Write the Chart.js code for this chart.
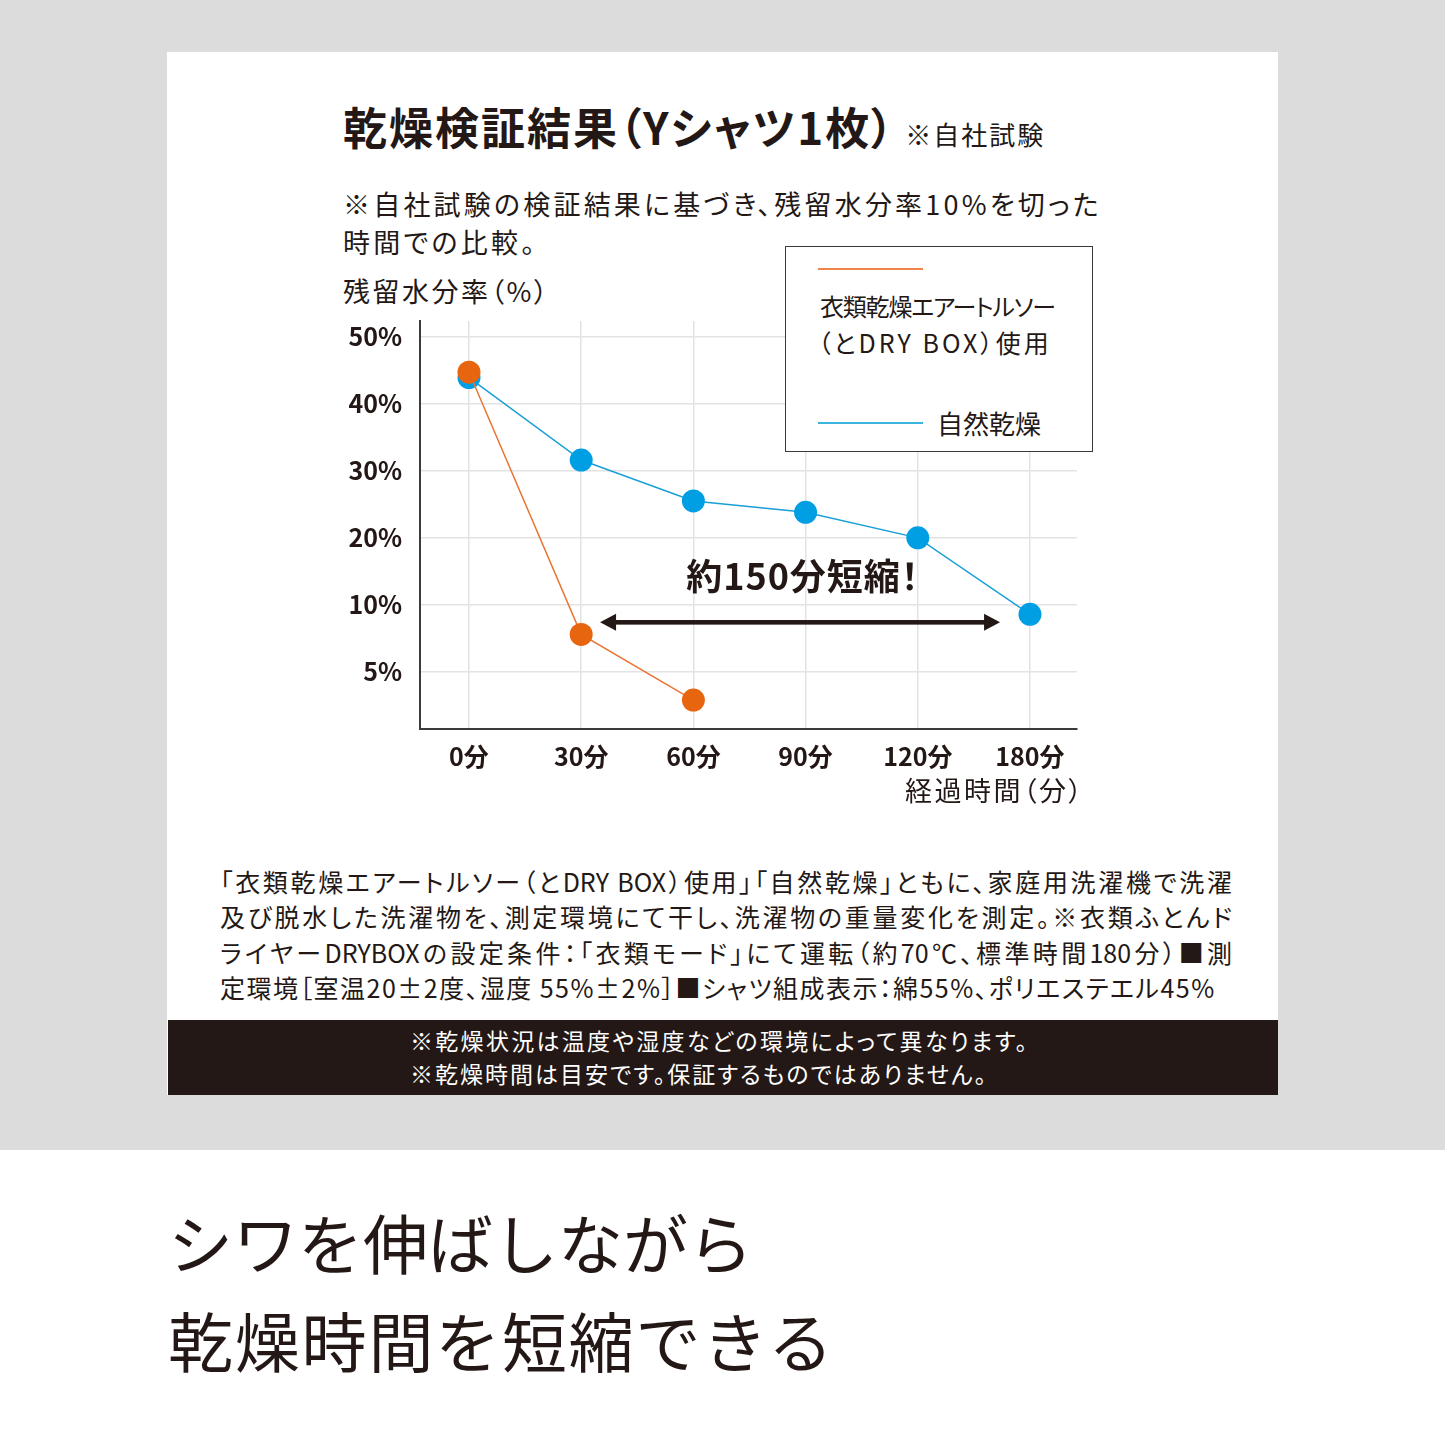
<!DOCTYPE html>
<html lang="ja">
<head>
<meta charset="utf-8">
<script src="https://cdn.jsdelivr.net/npm/chart.js@4.4.0/dist/chart.umd.min.js"></script>
<style>
  body { margin: 0; width: 1445px; height: 1444px; position: relative; background: #fff;
         font-family: "Noto Sans CJK JP", "Noto Sans", sans-serif; color: #231815;
         font-feature-settings: "palt"; overflow: hidden; }
  .abs { position: absolute; white-space: nowrap; line-height: 1; }
  .full { font-feature-settings: normal; }
  #bg { left: 0; top: 0; width: 1445px; height: 1150px; background: #dcdcdc; }
  #panel { left: 167px; top: 52px; width: 1111px; height: 1043px; background: #fff; }
  #band { left: 168px; top: 1020px; width: 1110px; height: 75px; background: #231815; }
  #chartBox { left: 330px; top: 300px; width: 770px; height: 480px; }
  #legend { left: 785px; top: 246px; width: 306px; height: 204px; border: 1.5px solid #3a3a3a; background: #fff; }
  .lg-line { position: absolute; height: 2px; width: 105px; left: 32px; }
  .note p { margin: 0; }
</style>
</head>
<body>
<div class="abs" id="bg"></div>
<div class="abs" id="panel"></div>

<div class="abs" style="left:343px;top:104px;font-size:44px;font-weight:700;letter-spacing:2px;">乾燥検証結果（Yシャツ1枚）<span style="font-size:26px;font-weight:400;letter-spacing:2px;margin-left:10px;">※自社試験</span></div>
<div class="abs" style="left:343px;top:190px;font-size:27px;letter-spacing:3.2px;">※自社試験の検証結果に基づき、残留水分率10%を切った</div>
<div class="abs" style="left:343px;top:228px;font-size:27px;letter-spacing:3.2px;">時間での比較。</div>
<div class="abs" style="left:343px;top:277px;font-size:27px;letter-spacing:2.5px;">残留水分率（%）</div>

<div class="abs" id="chartBox"><canvas id="chart" width="770" height="480"></canvas></div>

<div class="abs" id="legend">
  <div class="lg-line" style="top:21px;background:#ef8548;"></div>
  <div class="abs" style="left:34px;top:47px;font-size:24px;letter-spacing:-1.2px;">衣類乾燥エアートルソー</div>
  <div class="abs" style="left:32px;top:83px;font-size:25px;letter-spacing:3px;">（とDRY BOX）使用</div>
  <div class="lg-line" style="top:175px;background:#3cb4e0;"></div>
  <div class="abs full" style="left:151px;top:163px;font-size:26px;">自然乾燥</div>
</div>

<div class="abs" style="left:905px;top:776px;font-size:27px;letter-spacing:2.5px;">経過時間（分）</div>

<div class="abs note" style="left:220px;top:864px;font-size:25px;line-height:35.4px;width:1012px;">
  <p style="text-align:justify;text-align-last:justify;">「衣類乾燥エアートルソー（とDRY BOX）使用」「自然乾燥」ともに、家庭用洗濯機で洗濯</p>
  <p style="text-align:justify;text-align-last:justify;">及び脱水した洗濯物を、測定環境にて干し、洗濯物の重量変化を測定。※衣類ふとんド</p>
  <p style="text-align:justify;text-align-last:justify;">ライヤーDRYBOXの設定条件：「衣類モード」にて運転（約70℃、標準時間180分）■測</p>
  <p style="letter-spacing:1.5px;">定環境［室温20±2度、湿度 55%±2%］■シャツ組成表示：綿55%、ポリエステエル45%</p>
</div>

<div class="abs" id="band"></div>
<div class="abs" style="left:410px;top:1029px;font-size:23px;color:#fff;letter-spacing:2.3px;">※乾燥状況は温度や湿度などの環境によって異なります。</div>
<div class="abs" style="left:410px;top:1062px;font-size:23px;color:#fff;letter-spacing:2px;">※乾燥時間は目安です。保証するものではありません。</div>

<div class="abs full" style="left:168px;top:1209px;font-size:65px;">シワを伸ばしながら</div>
<div class="abs full" style="left:168px;top:1307px;font-size:65px;letter-spacing:1.8px;">乾燥時間を短縮できる</div>

<script>
// 経過時間カテゴリ
var timeLabels = ['0分', '30分', '60分', '90分', '120分', '180分'];
// 縦軸の目盛り (%)
var yTickValues = [5, 10, 20, 30, 40, 50];
// 残留水分率 (%)
var torsoValues = [44.7, 7.8, 2.9];
var naturalValues = [43.9, 31.6, 25.5, 23.8, 20.0, 9.3];

// 目盛りは等間隔なので、0-5-10-20-...-50 を区間ごとに線形でつなぐ
var stepStops = [0].concat(yTickValues);
function toAxis(v) {
    for (var i = 1; i < stepStops.length; i++) {
        if (v <= stepStops[i] || i === stepStops.length - 1) {
            var a = stepStops[i - 1], b = stepStops[i];
            return (i - 1) + (v - a) / (b - a);
        }
    }
    return 0;
}

class StepScale extends Chart.LinearScale {
    getPixelForValue(value) {
        return super.getPixelForValue(toAxis(value));
    }
}
StepScale.id = 'step';
StepScale.defaults = Chart.LinearScale.defaults;
Chart.register(StepScale);

function points(values) {
    return values.map(function (v, i) { return { x: i, y: v }; });
}

var arrowPlugin = {
    id: 'arrow',
    afterDatasetsDraw: function (chart) {
        var ctx = chart.ctx;
        var xs = chart.scales.x, ys = chart.scales.y;
        var x1 = xs.getPixelForValue(1.168), x2 = xs.getPixelForValue(4.733);
        var y = ys.getPixelForValue(8.7);
        ctx.save();
        ctx.fillStyle = '#231815';
        ctx.fillRect(x1 + 12, y - 2.3, x2 - x1 - 24, 4.6);
        ctx.beginPath();
        ctx.moveTo(x1, y); ctx.lineTo(x1 + 16, y - 8.5); ctx.lineTo(x1 + 16, y + 8.5); ctx.closePath();
        ctx.fill();
        ctx.beginPath();
        ctx.moveTo(x2, y); ctx.lineTo(x2 - 16, y - 8.5); ctx.lineTo(x2 - 16, y + 8.5); ctx.closePath();
        ctx.fill();
        ctx.font = 'bold 36px "Noto Sans CJK JP"';
        ctx.letterSpacing = '1px';
        ctx.textAlign = 'center';
        ctx.textBaseline = 'middle';
        ctx.fillText('約150分短縮！', xs.getPixelForValue(2.977), ys.getPixelForValue(14.2));
        ctx.restore();
    }
};

var tickFont = { family: '"Noto Sans CJK JP"', size: 25, weight: 700 };

var ctx = document.getElementById('chart').getContext('2d');
var myChart = new Chart(ctx, {
    type: 'line',
    data: {
        datasets: [{
            label: '衣類乾燥エアートルソー（とDRY BOX）使用',
            data: points(torsoValues),
            borderColor: '#ea7535',
            borderWidth: 1.5,
            pointBackgroundColor: '#e8650f',
            pointBorderWidth: 0,
            pointRadius: 11.5,
            tension: 0
        }, {
            label: '自然乾燥',
            data: points(naturalValues),
            borderColor: '#1a9fd8',
            borderWidth: 1.5,
            pointBackgroundColor: '#009fe3',
            pointBorderWidth: 0,
            pointRadius: 11.5,
            tension: 0
        }]
    },
    options: {
        responsive: false,
        animation: false,
        events: [],
        layout: { padding: { top: 21, right: 23, left: 0, bottom: 0 } },
        plugins: { legend: { display: false }, tooltip: { enabled: false } },
        scales: {
            x: {
                type: 'linear',
                min: -0.4367,
                max: 5.419,
                afterBuildTicks: function (s) { s.ticks = timeLabels.map(function (l, i) { return { value: i }; }); },
                afterFit: function (s) { s.height = 51; s.paddingLeft = 0; s.paddingRight = 0; },
                grid: { color: '#e3e3e3', lineWidth: 1.5, drawTicks: false },
                border: { color: '#3b3b3b', width: 2 },
                ticks: {
                    padding: 12,
                    color: '#231815',
                    font: tickFont,
                    maxRotation: 0,
                    autoSkip: false,
                    callback: function (v) { return timeLabels[v]; }
                }
            },
            y: {
                type: 'step',
                min: 0.149,
                max: 6.234,
                afterBuildTicks: function (s) { s.ticks = yTickValues.map(function (v) { return { value: v }; }); },
                afterFit: function (s) { s.width = 90; s.paddingTop = 0; s.paddingBottom = 0; },
                grid: { color: '#e3e3e3', lineWidth: 1.5, drawTicks: false },
                border: { color: '#3b3b3b', width: 2 },
                ticks: {
                    padding: 18,
                    color: '#231815',
                    font: tickFont,
                    autoSkip: false,
                    callback: function (v) { return v + '%'; }
                }
            }
        }
    },
    plugins: [arrowPlugin]
});
</script>
</body>
</html>
